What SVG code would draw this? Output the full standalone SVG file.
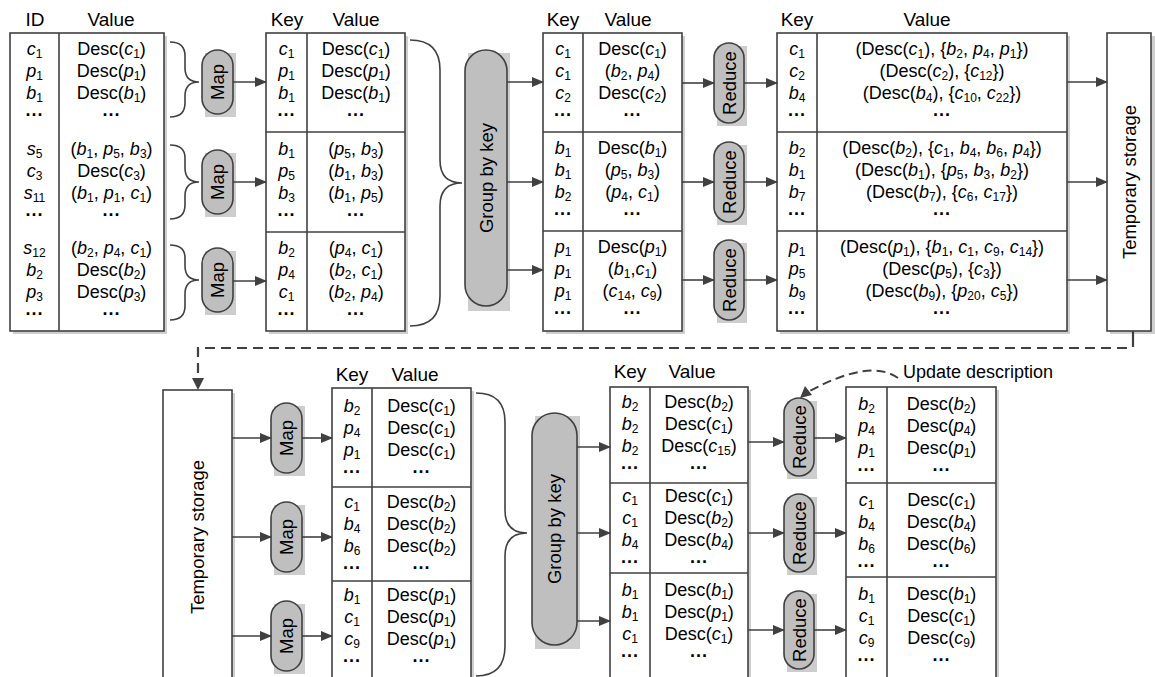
<svg xmlns="http://www.w3.org/2000/svg" width="1155" height="677" viewBox="0 0 1155 677">
<style>
.ln{fill:none;stroke:#404040;stroke-width:1.6}
.ar{fill:none;stroke:#404040;stroke-width:1.6;marker-end:url(#ah)}
.tb{fill:#fff;stroke:#404040;stroke-width:1.6}
.sh{fill:#cfcfcf}
.pill{fill:#bfbfbf;stroke:#404040;stroke-width:1.6}
.psh{fill:#cdcdcd}
.dash{fill:none;stroke:#404040;stroke-width:2.2;stroke-dasharray:10 6}
text{font-family:"Liberation Sans",Arial,sans-serif;font-size:18px;fill:#000;text-anchor:middle}
.i{font-style:italic}
.s{font-size:12px;baseline-shift:-3px}
.d{font-weight:bold}
.h{font-size:19px}
.lb{font-size:18.5px}
</style>
<defs>
<marker id="ah" markerWidth="12" markerHeight="10" refX="11" refY="5" orient="auto" markerUnits="userSpaceOnUse"><path d="M0,0 L12,5 L0,10 Z" fill="#404040"/></marker>
</defs>

<g id="headers">
<text class="h" x="35" y="26">ID</text><text class="h" x="111" y="26">Value</text>
<text class="h" x="287" y="26">Key</text><text class="h" x="356" y="26">Value</text>
<text class="h" x="563" y="26">Key</text><text class="h" x="628" y="26">Value</text>
<text class="h" x="797" y="26">Key</text><text class="h" x="927" y="26">Value</text>
<text class="h" x="352" y="381">Key</text><text class="h" x="415" y="381">Value</text>
<text class="h" x="630" y="378">Key</text><text class="h" x="692" y="378">Value</text>
</g>

<g id="t1">
<rect class="sh" x="13" y="36" width="154" height="298"/>
<rect class="tb" x="10" y="33" width="154" height="298"/>
<line class="ln" x1="59" y1="33" x2="59" y2="331"/>
<text x="34.5" y="55"><tspan class="i">c</tspan><tspan class="s">1</tspan></text>
<text x="34.5" y="77"><tspan class="i">p</tspan><tspan class="s">1</tspan></text>
<text x="34.5" y="99"><tspan class="i">b</tspan><tspan class="s">1</tspan></text>
<text x="34.5" y="121" class="d">···</text>
<text x="34.5" y="155"><tspan class="i">s</tspan><tspan class="s">5</tspan></text>
<text x="34.5" y="177"><tspan class="i">c</tspan><tspan class="s">3</tspan></text>
<text x="34.5" y="199"><tspan class="i">s</tspan><tspan class="s">11</tspan></text>
<text x="34.5" y="221" class="d">···</text>
<text x="34.5" y="254"><tspan class="i">s</tspan><tspan class="s">12</tspan></text>
<text x="34.5" y="276"><tspan class="i">b</tspan><tspan class="s">2</tspan></text>
<text x="34.5" y="298"><tspan class="i">p</tspan><tspan class="s">3</tspan></text>
<text x="34.5" y="320" class="d">···</text>
<text x="111.5" y="55">Desc(<tspan class="i">c</tspan><tspan class="s">1</tspan>)</text>
<text x="111.5" y="77">Desc(<tspan class="i">p</tspan><tspan class="s">1</tspan>)</text>
<text x="111.5" y="99">Desc(<tspan class="i">b</tspan><tspan class="s">1</tspan>)</text>
<text x="111.5" y="121" class="d">···</text>
<text x="111.5" y="155">(<tspan class="i">b</tspan><tspan class="s">1</tspan>, <tspan class="i">p</tspan><tspan class="s">5</tspan>, <tspan class="i">b</tspan><tspan class="s">3</tspan>)</text>
<text x="111.5" y="177">Desc(<tspan class="i">c</tspan><tspan class="s">3</tspan>)</text>
<text x="111.5" y="199">(<tspan class="i">b</tspan><tspan class="s">1</tspan>, <tspan class="i">p</tspan><tspan class="s">1</tspan>, <tspan class="i">c</tspan><tspan class="s">1</tspan>)</text>
<text x="111.5" y="221" class="d">···</text>
<text x="111.5" y="254">(<tspan class="i">b</tspan><tspan class="s">2</tspan>, <tspan class="i">p</tspan><tspan class="s">4</tspan>, <tspan class="i">c</tspan><tspan class="s">1</tspan>)</text>
<text x="111.5" y="276">Desc(<tspan class="i">b</tspan><tspan class="s">2</tspan>)</text>
<text x="111.5" y="298">Desc(<tspan class="i">p</tspan><tspan class="s">3</tspan>)</text>
<text x="111.5" y="320" class="d">···</text>
</g>

<g id="map1"><rect class="psh" x="205" y="53" width="31" height="64"/><rect class="pill" x="202" y="50" width="31" height="64" rx="15.5"/><text class="lb" transform="translate(217.5,82) rotate(-90)" dy="6.5">Map</text></g>
<g id="map2"><rect class="psh" x="205" y="153" width="31" height="64"/><rect class="pill" x="202" y="150" width="31" height="64" rx="15.5"/><text class="lb" transform="translate(217.5,182) rotate(-90)" dy="6.5">Map</text></g>
<g id="map3"><rect class="psh" x="205" y="251" width="31" height="64"/><rect class="pill" x="202" y="248" width="31" height="64" rx="15.5"/><text class="lb" transform="translate(217.5,280) rotate(-90)" dy="6.5">Map</text></g>

<g id="t2">
<rect class="sh" x="269" y="36" width="139" height="298"/>
<rect class="tb" x="266" y="33" width="139" height="298"/>
<line class="ln" x1="307" y1="33" x2="307" y2="331"/>
<line class="ln" x1="266" y1="132" x2="405" y2="132"/>
<line class="ln" x1="266" y1="232" x2="405" y2="232"/>
<text x="286.5" y="55"><tspan class="i">c</tspan><tspan class="s">1</tspan></text>
<text x="286.5" y="77"><tspan class="i">p</tspan><tspan class="s">1</tspan></text>
<text x="286.5" y="99"><tspan class="i">b</tspan><tspan class="s">1</tspan></text>
<text x="286.5" y="121" class="d">···</text>
<text x="286.5" y="155"><tspan class="i">b</tspan><tspan class="s">1</tspan></text>
<text x="286.5" y="177"><tspan class="i">p</tspan><tspan class="s">5</tspan></text>
<text x="286.5" y="199"><tspan class="i">b</tspan><tspan class="s">3</tspan></text>
<text x="286.5" y="221" class="d">···</text>
<text x="286.5" y="254"><tspan class="i">b</tspan><tspan class="s">2</tspan></text>
<text x="286.5" y="276"><tspan class="i">p</tspan><tspan class="s">4</tspan></text>
<text x="286.5" y="298"><tspan class="i">c</tspan><tspan class="s">1</tspan></text>
<text x="286.5" y="320" class="d">···</text>
<text x="356" y="55">Desc(<tspan class="i">c</tspan><tspan class="s">1</tspan>)</text>
<text x="356" y="77">Desc(<tspan class="i">p</tspan><tspan class="s">1</tspan>)</text>
<text x="356" y="99">Desc(<tspan class="i">b</tspan><tspan class="s">1</tspan>)</text>
<text x="356" y="121" class="d">···</text>
<text x="356" y="155">(<tspan class="i">p</tspan><tspan class="s">5</tspan>, <tspan class="i">b</tspan><tspan class="s">3</tspan>)</text>
<text x="356" y="177">(<tspan class="i">b</tspan><tspan class="s">1</tspan>, <tspan class="i">b</tspan><tspan class="s">3</tspan>)</text>
<text x="356" y="199">(<tspan class="i">b</tspan><tspan class="s">1</tspan>, <tspan class="i">p</tspan><tspan class="s">5</tspan>)</text>
<text x="356" y="221" class="d">···</text>
<text x="356" y="254">(<tspan class="i">p</tspan><tspan class="s">4</tspan>, <tspan class="i">c</tspan><tspan class="s">1</tspan>)</text>
<text x="356" y="276">(<tspan class="i">b</tspan><tspan class="s">2</tspan>, <tspan class="i">c</tspan><tspan class="s">1</tspan>)</text>
<text x="356" y="298">(<tspan class="i">b</tspan><tspan class="s">2</tspan>, <tspan class="i">p</tspan><tspan class="s">4</tspan>)</text>
<text x="356" y="320" class="d">···</text>
</g>

<g id="gbk1"><rect class="psh" x="468" y="53" width="42" height="258"/><rect class="pill" x="465" y="50" width="42" height="256" rx="21"/><text class="lb" transform="translate(486,178) rotate(-90)" dy="6.5">Group by key</text></g>

<g id="t3">
<rect class="sh" x="546" y="36" width="139" height="298"/>
<rect class="tb" x="543" y="33" width="139" height="298"/>
<line class="ln" x1="583" y1="33" x2="583" y2="331"/>
<line class="ln" x1="543" y1="132" x2="682" y2="132"/>
<line class="ln" x1="543" y1="231" x2="682" y2="231"/>
<text x="563" y="55"><tspan class="i">c</tspan><tspan class="s">1</tspan></text>
<text x="563" y="77"><tspan class="i">c</tspan><tspan class="s">1</tspan></text>
<text x="563" y="99"><tspan class="i">c</tspan><tspan class="s">2</tspan></text>
<text x="563" y="121" class="d">···</text>
<text x="563" y="154"><tspan class="i">b</tspan><tspan class="s">1</tspan></text>
<text x="563" y="176"><tspan class="i">b</tspan><tspan class="s">1</tspan></text>
<text x="563" y="198"><tspan class="i">b</tspan><tspan class="s">2</tspan></text>
<text x="563" y="220" class="d">···</text>
<text x="563" y="253"><tspan class="i">p</tspan><tspan class="s">1</tspan></text>
<text x="563" y="275"><tspan class="i">p</tspan><tspan class="s">1</tspan></text>
<text x="563" y="297"><tspan class="i">p</tspan><tspan class="s">1</tspan></text>
<text x="563" y="319" class="d">···</text>
<text x="632.5" y="55">Desc(<tspan class="i">c</tspan><tspan class="s">1</tspan>)</text>
<text x="632.5" y="77">(<tspan class="i">b</tspan><tspan class="s">2</tspan>, <tspan class="i">p</tspan><tspan class="s">4</tspan>)</text>
<text x="632.5" y="99">Desc(<tspan class="i">c</tspan><tspan class="s">2</tspan>)</text>
<text x="632.5" y="121" class="d">···</text>
<text x="632.5" y="154">Desc(<tspan class="i">b</tspan><tspan class="s">1</tspan>)</text>
<text x="632.5" y="176">(<tspan class="i">p</tspan><tspan class="s">5</tspan>, <tspan class="i">b</tspan><tspan class="s">3</tspan>)</text>
<text x="632.5" y="198">(<tspan class="i">p</tspan><tspan class="s">4</tspan>, <tspan class="i">c</tspan><tspan class="s">1</tspan>)</text>
<text x="632.5" y="220" class="d">···</text>
<text x="632.5" y="253">Desc(<tspan class="i">p</tspan><tspan class="s">1</tspan>)</text>
<text x="632.5" y="275">(<tspan class="i">b</tspan><tspan class="s">1</tspan>,<tspan class="i">c</tspan><tspan class="s">1</tspan>)</text>
<text x="632.5" y="297">(<tspan class="i">c</tspan><tspan class="s">14</tspan>, <tspan class="i">c</tspan><tspan class="s">9</tspan>)</text>
<text x="632.5" y="319" class="d">···</text>
</g>

<g id="red1"><rect class="psh" x="717" y="46" width="30" height="80"/><rect class="pill" x="714" y="43" width="30" height="80" rx="15"/><text class="lb" transform="translate(729,83) rotate(-90)" dy="6.5">Reduce</text></g>
<g id="red2"><rect class="psh" x="717" y="145" width="30" height="80"/><rect class="pill" x="714" y="142" width="30" height="80" rx="15"/><text class="lb" transform="translate(729,182) rotate(-90)" dy="6.5">Reduce</text></g>
<g id="red3"><rect class="psh" x="717" y="243" width="30" height="80"/><rect class="pill" x="714" y="240" width="30" height="80" rx="15"/><text class="lb" transform="translate(729,280) rotate(-90)" dy="6.5">Reduce</text></g>

<g id="t4">
<rect class="sh" x="780" y="36" width="290" height="298"/>
<rect class="tb" x="777" y="33" width="290" height="298"/>
<line class="ln" x1="817" y1="33" x2="817" y2="331"/>
<line class="ln" x1="777" y1="132" x2="1067" y2="132"/>
<line class="ln" x1="777" y1="231" x2="1067" y2="231"/>
<text x="797" y="55"><tspan class="i">c</tspan><tspan class="s">1</tspan></text>
<text x="797" y="77"><tspan class="i">c</tspan><tspan class="s">2</tspan></text>
<text x="797" y="99"><tspan class="i">b</tspan><tspan class="s">4</tspan></text>
<text x="797" y="121" class="d">···</text>
<text x="797" y="154"><tspan class="i">b</tspan><tspan class="s">2</tspan></text>
<text x="797" y="176"><tspan class="i">b</tspan><tspan class="s">1</tspan></text>
<text x="797" y="198"><tspan class="i">b</tspan><tspan class="s">7</tspan></text>
<text x="797" y="220" class="d">···</text>
<text x="797" y="253"><tspan class="i">p</tspan><tspan class="s">1</tspan></text>
<text x="797" y="275"><tspan class="i">p</tspan><tspan class="s">5</tspan></text>
<text x="797" y="297"><tspan class="i">b</tspan><tspan class="s">9</tspan></text>
<text x="797" y="319" class="d">···</text>
<text x="942" y="55">(Desc(<tspan class="i">c</tspan><tspan class="s">1</tspan>), {<tspan class="i">b</tspan><tspan class="s">2</tspan>, <tspan class="i">p</tspan><tspan class="s">4</tspan>, <tspan class="i">p</tspan><tspan class="s">1</tspan>})</text>
<text x="942" y="77">(Desc(<tspan class="i">c</tspan><tspan class="s">2</tspan>), {<tspan class="i">c</tspan><tspan class="s">12</tspan>})</text>
<text x="942" y="99">(Desc(<tspan class="i">b</tspan><tspan class="s">4</tspan>), {<tspan class="i">c</tspan><tspan class="s">10</tspan>, <tspan class="i">c</tspan><tspan class="s">22</tspan>})</text>
<text x="942" y="121" class="d">···</text>
<text x="942" y="154">(Desc(<tspan class="i">b</tspan><tspan class="s">2</tspan>), {<tspan class="i">c</tspan><tspan class="s">1</tspan>, <tspan class="i">b</tspan><tspan class="s">4</tspan>, <tspan class="i">b</tspan><tspan class="s">6</tspan>, <tspan class="i">p</tspan><tspan class="s">4</tspan>})</text>
<text x="942" y="176">(Desc(<tspan class="i">b</tspan><tspan class="s">1</tspan>), {<tspan class="i">p</tspan><tspan class="s">5</tspan>, <tspan class="i">b</tspan><tspan class="s">3</tspan>, <tspan class="i">b</tspan><tspan class="s">2</tspan>})</text>
<text x="942" y="198">(Desc(<tspan class="i">b</tspan><tspan class="s">7</tspan>), {<tspan class="i">c</tspan><tspan class="s">6</tspan>, <tspan class="i">c</tspan><tspan class="s">17</tspan>})</text>
<text x="942" y="220" class="d">···</text>
<text x="942" y="253">(Desc(<tspan class="i">p</tspan><tspan class="s">1</tspan>), {<tspan class="i">b</tspan><tspan class="s">1</tspan>, <tspan class="i">c</tspan><tspan class="s">1</tspan>, <tspan class="i">c</tspan><tspan class="s">9</tspan>, <tspan class="i">c</tspan><tspan class="s">14</tspan>})</text>
<text x="942" y="275">(Desc(<tspan class="i">p</tspan><tspan class="s">5</tspan>), {<tspan class="i">c</tspan><tspan class="s">3</tspan>})</text>
<text x="942" y="297">(Desc(<tspan class="i">b</tspan><tspan class="s">9</tspan>), {<tspan class="i">p</tspan><tspan class="s">20</tspan>, <tspan class="i">c</tspan><tspan class="s">5</tspan>})</text>
<text x="942" y="319" class="d">···</text>
</g>

<g id="store1"><rect class="sh" x="1110" y="36" width="45" height="298"/><rect class="tb" x="1107" y="33" width="44" height="298"/><text class="lb" transform="translate(1129,182) rotate(-90)" dy="6.5">Temporary storage</text></g>

<g id="store2"><rect class="sh" x="166" y="393" width="69" height="290"/><rect class="tb" x="163" y="390" width="69" height="292"/><text class="lb" transform="translate(197,537) rotate(-90)" dy="6.5">Temporary storage</text></g>

<g id="map4"><rect class="psh" x="274" y="406" width="31" height="70"/><rect class="pill" x="271" y="403" width="31" height="70" rx="15.5"/><text class="lb" transform="translate(286.5,438) rotate(-90)" dy="6.5">Map</text></g>
<g id="map5"><rect class="psh" x="274" y="505" width="31" height="70"/><rect class="pill" x="271" y="502" width="31" height="70" rx="15.5"/><text class="lb" transform="translate(286.5,537) rotate(-90)" dy="6.5">Map</text></g>
<g id="map6"><rect class="psh" x="274" y="604" width="31" height="70"/><rect class="pill" x="271" y="601" width="31" height="70" rx="15.5"/><text class="lb" transform="translate(286.5,636) rotate(-90)" dy="6.5">Map</text></g>

<g id="bt1">
<rect class="sh" x="335" y="391" width="139" height="292"/>
<rect class="tb" x="332" y="388" width="139" height="294"/>
<line class="ln" x1="372" y1="388" x2="372" y2="677"/>
<line class="ln" x1="332" y1="487" x2="471" y2="487"/>
<line class="ln" x1="332" y1="581" x2="471" y2="581"/>
<text x="352" y="412"><tspan class="i">b</tspan><tspan class="s">2</tspan></text>
<text x="352" y="434"><tspan class="i">p</tspan><tspan class="s">4</tspan></text>
<text x="352" y="456"><tspan class="i">p</tspan><tspan class="s">1</tspan></text>
<text x="352" y="478" class="d">···</text>
<text x="352" y="508"><tspan class="i">c</tspan><tspan class="s">1</tspan></text>
<text x="352" y="530"><tspan class="i">b</tspan><tspan class="s">4</tspan></text>
<text x="352" y="552"><tspan class="i">b</tspan><tspan class="s">6</tspan></text>
<text x="352" y="574" class="d">···</text>
<text x="352" y="601"><tspan class="i">b</tspan><tspan class="s">1</tspan></text>
<text x="352" y="623"><tspan class="i">c</tspan><tspan class="s">1</tspan></text>
<text x="352" y="645"><tspan class="i">c</tspan><tspan class="s">9</tspan></text>
<text x="352" y="667" class="d">···</text>
<text x="421.5" y="412">Desc(<tspan class="i">c</tspan><tspan class="s">1</tspan>)</text>
<text x="421.5" y="434">Desc(<tspan class="i">c</tspan><tspan class="s">1</tspan>)</text>
<text x="421.5" y="456">Desc(<tspan class="i">c</tspan><tspan class="s">1</tspan>)</text>
<text x="421.5" y="478" class="d">···</text>
<text x="421.5" y="508">Desc(<tspan class="i">b</tspan><tspan class="s">2</tspan>)</text>
<text x="421.5" y="530">Desc(<tspan class="i">b</tspan><tspan class="s">2</tspan>)</text>
<text x="421.5" y="552">Desc(<tspan class="i">b</tspan><tspan class="s">2</tspan>)</text>
<text x="421.5" y="574" class="d">···</text>
<text x="421.5" y="601">Desc(<tspan class="i">p</tspan><tspan class="s">1</tspan>)</text>
<text x="421.5" y="623">Desc(<tspan class="i">p</tspan><tspan class="s">1</tspan>)</text>
<text x="421.5" y="645">Desc(<tspan class="i">p</tspan><tspan class="s">1</tspan>)</text>
<text x="421.5" y="667" class="d">···</text>
</g>

<g id="gbk2"><rect class="psh" x="535" y="416" width="45" height="233"/><rect class="pill" x="532" y="413" width="45" height="232" rx="22.5"/><text class="lb" transform="translate(554.5,529) rotate(-90)" dy="6.5">Group by key</text></g>

<g id="bt2">
<rect class="sh" x="613" y="390" width="138" height="292"/>
<rect class="tb" x="610" y="387" width="138" height="295"/>
<line class="ln" x1="650" y1="387" x2="650" y2="677"/>
<line class="ln" x1="610" y1="483" x2="748" y2="483"/>
<line class="ln" x1="610" y1="573" x2="748" y2="573"/>
<text x="630" y="408"><tspan class="i">b</tspan><tspan class="s">2</tspan></text>
<text x="630" y="430"><tspan class="i">b</tspan><tspan class="s">2</tspan></text>
<text x="630" y="452"><tspan class="i">b</tspan><tspan class="s">2</tspan></text>
<text x="630" y="474" class="d">···</text>
<text x="630" y="502"><tspan class="i">c</tspan><tspan class="s">1</tspan></text>
<text x="630" y="524"><tspan class="i">c</tspan><tspan class="s">1</tspan></text>
<text x="630" y="546"><tspan class="i">b</tspan><tspan class="s">4</tspan></text>
<text x="630" y="568" class="d">···</text>
<text x="630" y="596"><tspan class="i">b</tspan><tspan class="s">1</tspan></text>
<text x="630" y="618"><tspan class="i">b</tspan><tspan class="s">1</tspan></text>
<text x="630" y="640"><tspan class="i">c</tspan><tspan class="s">1</tspan></text>
<text x="630" y="662" class="d">···</text>
<text x="699" y="408">Desc(<tspan class="i">b</tspan><tspan class="s">2</tspan>)</text>
<text x="699" y="430">Desc(<tspan class="i">c</tspan><tspan class="s">1</tspan>)</text>
<text x="699" y="452">Desc(<tspan class="i">c</tspan><tspan class="s">15</tspan>)</text>
<text x="699" y="474" class="d">···</text>
<text x="699" y="502">Desc(<tspan class="i">c</tspan><tspan class="s">1</tspan>)</text>
<text x="699" y="524">Desc(<tspan class="i">b</tspan><tspan class="s">2</tspan>)</text>
<text x="699" y="546">Desc(<tspan class="i">b</tspan><tspan class="s">4</tspan>)</text>
<text x="699" y="568" class="d">···</text>
<text x="699" y="596">Desc(<tspan class="i">b</tspan><tspan class="s">1</tspan>)</text>
<text x="699" y="618">Desc(<tspan class="i">p</tspan><tspan class="s">1</tspan>)</text>
<text x="699" y="640">Desc(<tspan class="i">c</tspan><tspan class="s">1</tspan>)</text>
<text x="699" y="662" class="d">···</text>
</g>

<g id="red4"><rect class="psh" x="787" y="401" width="30" height="78"/><rect class="pill" x="784" y="398" width="30" height="78" rx="15"/><text class="lb" transform="translate(799,437) rotate(-90)" dy="6.5">Reduce</text></g>
<g id="red5"><rect class="psh" x="787" y="497" width="30" height="78"/><rect class="pill" x="784" y="494" width="30" height="78" rx="15"/><text class="lb" transform="translate(799,533) rotate(-90)" dy="6.5">Reduce</text></g>
<g id="red6"><rect class="psh" x="787" y="594" width="30" height="78"/><rect class="pill" x="784" y="591" width="30" height="78" rx="15"/><text class="lb" transform="translate(799,630) rotate(-90)" dy="6.5">Reduce</text></g>

<g id="bt3">
<rect class="sh" x="849" y="390" width="150" height="292"/>
<rect class="tb" x="846" y="387" width="150" height="295"/>
<line class="ln" x1="887" y1="387" x2="887" y2="677"/>
<line class="ln" x1="846" y1="483" x2="996" y2="483"/>
<line class="ln" x1="846" y1="577" x2="996" y2="577"/>
<text x="866.5" y="410"><tspan class="i">b</tspan><tspan class="s">2</tspan></text>
<text x="866.5" y="432"><tspan class="i">p</tspan><tspan class="s">4</tspan></text>
<text x="866.5" y="454"><tspan class="i">p</tspan><tspan class="s">1</tspan></text>
<text x="866.5" y="476" class="d">···</text>
<text x="866.5" y="506"><tspan class="i">c</tspan><tspan class="s">1</tspan></text>
<text x="866.5" y="528"><tspan class="i">b</tspan><tspan class="s">4</tspan></text>
<text x="866.5" y="550"><tspan class="i">b</tspan><tspan class="s">6</tspan></text>
<text x="866.5" y="572" class="d">···</text>
<text x="866.5" y="600"><tspan class="i">b</tspan><tspan class="s">1</tspan></text>
<text x="866.5" y="622"><tspan class="i">c</tspan><tspan class="s">1</tspan></text>
<text x="866.5" y="644"><tspan class="i">c</tspan><tspan class="s">9</tspan></text>
<text x="866.5" y="666" class="d">···</text>
<text x="941.5" y="410">Desc(<tspan class="i">b</tspan><tspan class="s">2</tspan>)</text>
<text x="941.5" y="432">Desc(<tspan class="i">p</tspan><tspan class="s">4</tspan>)</text>
<text x="941.5" y="454">Desc(<tspan class="i">p</tspan><tspan class="s">1</tspan>)</text>
<text x="941.5" y="476" class="d">···</text>
<text x="941.5" y="506">Desc(<tspan class="i">c</tspan><tspan class="s">1</tspan>)</text>
<text x="941.5" y="528">Desc(<tspan class="i">b</tspan><tspan class="s">4</tspan>)</text>
<text x="941.5" y="550">Desc(<tspan class="i">b</tspan><tspan class="s">6</tspan>)</text>
<text x="941.5" y="572" class="d">···</text>
<text x="941.5" y="600">Desc(<tspan class="i">b</tspan><tspan class="s">1</tspan>)</text>
<text x="941.5" y="622">Desc(<tspan class="i">c</tspan><tspan class="s">1</tspan>)</text>
<text x="941.5" y="644">Desc(<tspan class="i">c</tspan><tspan class="s">9</tspan>)</text>
<text x="941.5" y="666" class="d">···</text>
</g>

<g id="connectors">
<path class="ln" d="M170,42 Q185,42 185,56 V68 Q185,82 199,82 Q185,82 185,96 V103 Q185,117 170,117"/>
<path class="ln" d="M170,145 Q185,145 185,158 V168 Q185,182 199,182 Q185,182 185,196 V205 Q185,219 170,219"/>
<path class="ln" d="M170,245 Q185,245 185,258 V266 Q185,280 199,280 Q185,280 185,294 V306 Q185,320 170,320"/>
<path class="ln" d="M410,40 Q440,40 440,70 V160 Q440,183 462,183 Q440,183 440,206 V296 Q440,326 410,326"/>
<path class="ln" d="M476,393 Q505,393 505,422 V510 Q505,533 527,533 Q505,533 505,556 V646 Q505,676 476,676"/>
<line class="ar" x1="233" y1="82" x2="266" y2="82"/>
<line class="ar" x1="233" y1="182" x2="266" y2="182"/>
<line class="ar" x1="233" y1="281" x2="266" y2="281"/>
<line class="ar" x1="507" y1="82" x2="543" y2="82"/>
<line class="ar" x1="507" y1="182" x2="543" y2="182"/>
<line class="ar" x1="507" y1="270" x2="543" y2="270"/>
<line class="ar" x1="682" y1="83" x2="714" y2="83"/>
<line class="ar" x1="682" y1="182" x2="714" y2="182"/>
<line class="ar" x1="682" y1="280" x2="714" y2="280"/>
<line class="ar" x1="744" y1="83" x2="777" y2="83"/>
<line class="ar" x1="744" y1="182" x2="777" y2="182"/>
<line class="ar" x1="744" y1="280" x2="777" y2="280"/>
<line class="ar" x1="1067" y1="82" x2="1107" y2="82"/>
<line class="ar" x1="1067" y1="182" x2="1107" y2="182"/>
<line class="ar" x1="1067" y1="280" x2="1107" y2="280"/>
<line class="ln" x1="1133" y1="331" x2="1133" y2="347" style="stroke-width:2.2"/>
<path class="dash" d="M1127,348 H198 V378"/>
<path d="M192,378 L204,378 L198,390 Z" fill="#404040"/>
<line class="ar" x1="232" y1="438" x2="271" y2="438"/>
<line class="ar" x1="232" y1="537" x2="271" y2="537"/>
<line class="ar" x1="232" y1="636" x2="271" y2="636"/>
<line class="ar" x1="302" y1="438" x2="332" y2="438"/>
<line class="ar" x1="302" y1="537" x2="332" y2="537"/>
<line class="ar" x1="302" y1="636" x2="332" y2="636"/>
<line class="ar" x1="577" y1="447" x2="610" y2="447"/>
<line class="ar" x1="577" y1="533" x2="610" y2="533"/>
<line class="ar" x1="577" y1="621" x2="610" y2="621"/>
<line class="ar" x1="748" y1="442" x2="784" y2="442"/>
<line class="ar" x1="748" y1="533" x2="784" y2="533"/>
<line class="ar" x1="748" y1="630" x2="784" y2="630"/>
<line class="ar" x1="814" y1="438" x2="846" y2="438"/>
<line class="ar" x1="814" y1="533" x2="846" y2="533"/>
<line class="ar" x1="814" y1="630" x2="846" y2="630"/>
<path d="M898,378 Q870,358 808,392" fill="none" stroke="#404040" stroke-width="2" stroke-dasharray="9 5"/>
<path d="M800,398 L805,386 L812,395 Z" fill="#404040"/>
</g>
<text x="903" y="378" style="text-anchor:start;font-size:18px">Update description</text>
</svg>
